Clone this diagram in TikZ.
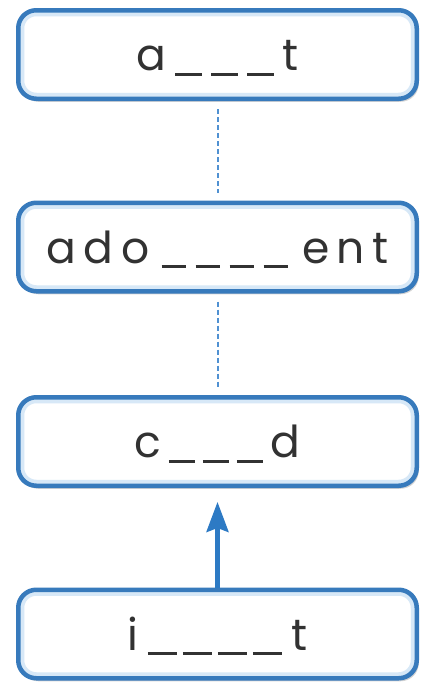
\documentclass[tikz,border=0pt]{standalone}
\usepackage{fontspec}
\setmainfont{Poppins}
\usetikzlibrary{shadows,arrows.meta}
\definecolor{boxblue}{RGB}{55,122,188}
\definecolor{glowblue}{RGB}{215,232,247}
\definecolor{dashblue}{RGB}{80,145,210}
\definecolor{arrowblue}{RGB}{45,122,196}
\definecolor{txtgray}{RGB}{50,50,50}
\newcommand{\bl}[1]{\rule[-5pt]{#1}{2.6pt}}
\begin{document}
\begin{tikzpicture}[x=1pt,y=-1pt,
  wordbox/.style={rectangle, rounded corners=18pt, draw=boxblue, line width=4.5pt,
    fill=white, minimum width=398.5pt, minimum height=88.5pt, inner sep=0pt,
    text height=32pt, text depth=0pt, font=\fontsize{44}{48}\selectfont, text=txtgray,
    drop shadow={shadow xshift=2pt, shadow yshift=-3pt, opacity=0.35, fill=black!50},
    path picture={\draw[rounded corners=18pt, line width=12pt, glowblue]
      (path picture bounding box.south west) rectangle (path picture bounding box.north east);}},
  dashline/.style={draw=dashblue, line width=2pt, dash pattern=on 5pt off 3pt,
    shorten <=8pt, shorten >=8pt},
  arrowline/.style={draw=arrowblue, line width=4.2pt,
    -{Stealth[length=30pt, width=22pt, inset=4pt]}, shorten >=14pt}]
\useasboundingbox (0,0) rectangle (426,686);
\node[wordbox] (b1) at (217.5,54.5)
  {a\hspace{9pt}\bl{27pt}\hspace{9pt}\bl{27pt}\hspace{9pt}\bl{27pt}\hspace{8pt}t};
\node[wordbox] (b2) at (217.5,247)
  {a\hspace{7pt}d\hspace{8pt}o\hspace{12pt}\bl{24pt}\hspace{10pt}\bl{24pt}\hspace{10pt}\bl{24pt}\hspace{10pt}\bl{24pt}\hspace{15pt}e\hspace{7pt}n\hspace{7pt}t};
\node[wordbox] (b3) at (217.5,441.5)
  {c\hspace{8pt}\bl{26pt}\hspace{8pt}\bl{26pt}\hspace{8pt}\bl{26pt}\hspace{8pt}d};
\node[wordbox] (b4) at (217.5,634)
  {i\hspace{10pt}\bl{29pt}\hspace{6pt}\bl{29pt}\hspace{6pt}\bl{29pt}\hspace{6pt}\bl{29pt}\hspace{10pt}t};
\draw[dashline] (b1.south) -- (b2.north);
\draw[dashline] (b2.south) -- (b3.north);
\draw[arrowline] (b4.north) -- (b3.south);
\end{tikzpicture}
\end{document}
